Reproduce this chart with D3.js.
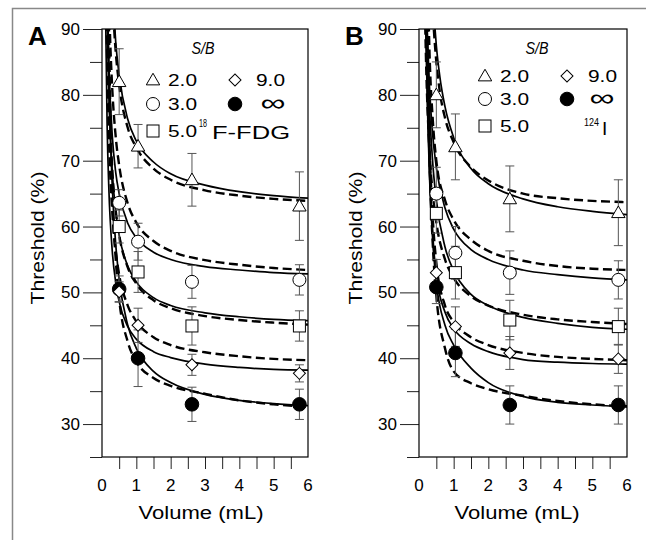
<!DOCTYPE html>
<html>
<head>
<meta charset="utf-8">
<title>Threshold vs volume</title>
<script src="https://cdnjs.cloudflare.com/ajax/libs/d3/7.8.5/d3.min.js"></script>
<style>
  body { margin: 0; background: #fff; }
  svg { display: block; font-family: "Liberation Sans", Arial, sans-serif; }
</style>
</head>
<body>
<svg id="chart" width="646" height="540"></svg>
<script>
// sphere volumes (mL) where the points sit
var volumes = [0.5, 1.05, 2.62, 5.75];
var yTicks = [30, 40, 50, 60, 70, 80, 90];
var yMinor = [25, 35, 45, 55, 65, 75, 85];
var xTicks = [0, 1, 2, 3, 4, 5, 6];
var xMinor = [0.5, 1, 1.5, 2, 2.5, 3, 3.5, 4, 4.5, 5, 5.5];

// panel A, 18F-FDG : measured thresholds (%) and error bars
var fdg2 = [82, 72.2, 67.1, 63.1],   fdg2Err = [5, 3.3, 4, 5.2];
var fdg3 = [63.6, 57.7, 51.6, 51.9], fdg3Err = [2, 2.8, 2.5, 2.3];
var fdg5 = [60, 53.1, 44.9, 44.9],   fdg5Err = [2.5, 3.1, 2.9, 2.3];
var fdg9 = [50.1, 45, 39, 37.7],     fdg9Err = [1.5, 2.6, 1.6, 1.3];
var fdgInf = [50.5, 40, 33, 33],     fdgInfErr = [2, 4.3, 2.6, 2.3];

// panel B, 124I
var iod2 = [80, 72.1, 64.2, 62.1],   iod2Err = [5, 5, 5, 5];
var iod3 = [65, 56, 53, 51.9],       iod3Err = [4, 4, 3.3, 2.9];
var iod5 = [62, 53, 45.8, 44.8],     iod5Err = [3, 4, 3, 2.8];
var iod9 = [53, 44.8, 40.8, 39.9],   iod9Err = [2, 3, 2.5, 2.2];
var iodInf = [50.8, 40.8, 32.9, 32.9], iodInfErr = [2.5, 3.6, 2.9, 2.9];

// fitted curves, [volume, threshold]
var fdgSolid2 = [[0.35,92],[0.4,88],[0.5,83],[0.75,76.3],[1,73],[1.5,69.8],[2,68],[3,66.3],[4,65.3],[5,64.7],[6,64.3]];
var fdgDash2  = [[0.33,92],[0.4,86.5],[0.5,81.5],[0.75,75],[1,72],[1.5,68.8],[2,67.1],[3,65.5],[4,64.7],[5,64.2],[6,63.9]];
var fdgSolid3 = [[0.16,92],[0.2,84.5],[0.3,73.7],[0.4,68.2],[0.5,65],[0.75,60.5],[1,58.3],[1.5,56.1],[2,55],[3,53.9],[4,53.4],[5,53],[6,52.8]];
var fdgDash3  = [[0.22,91.3],[0.25,86.6],[0.3,80.8],[0.4,73.6],[0.5,69.3],[0.75,63.5],[1,60.6],[1.5,57.8],[2,56.3],[3,54.9],[4,54.2],[5,53.7],[6,53.4]];
var fdgSolid5 = [[0.15,91.8],[0.2,80],[0.3,68.2],[0.4,62.3],[0.5,58.7],[0.75,54],[1,51.6],[1.5,49.2],[2,48],[3,46.9],[4,46.3],[5,45.9],[6,45.7]];
var fdgDash5  = [[0.15,93.2],[0.2,80.9],[0.3,68.6],[0.4,62.4],[0.5,58.7],[0.75,53.8],[1,51.3],[1.5,48.8],[2,47.6],[3,46.4],[4,45.8],[5,45.4],[6,45.1]];
var fdgSolid9 = [[0.1,94.2],[0.15,75.2],[0.2,65.7],[0.3,56.2],[0.4,51.5],[0.5,48.6],[0.75,44.8],[1,42.9],[1.5,41],[2,40.1],[3,39.1],[4,38.6],[5,38.3],[6,38.2]];
var fdgDash9  = [[0.13,93.1],[0.15,85.8],[0.2,74],[0.3,62.2],[0.4,56.3],[0.5,52.7],[0.75,48],[1,45.6],[1.5,43.2],[2,42],[3,40.9],[4,40.3],[5,39.9],[6,39.7]];
var fdgSolidInf = [[0.17,92.8],[0.2,83.5],[0.3,66],[0.4,57.3],[0.5,52],[0.75,45],[1,41.5],[1.5,38],[2,36.3],[3,34.5],[4,33.6],[5,33.1],[6,32.8]];
var fdgDashInf  = [[0.2,91],[0.25,75],[0.3,65],[0.4,55],[0.5,49],[0.75,42.5],[1,39.5],[1.5,37],[2,35.8],[3,34.6],[4,33.6],[5,33],[6,32.6]];

var iodSolid2 = [[0.44,91.5],[0.5,87.5],[0.6,82.8],[0.75,78.2],[1,73.5],[1.5,68.8],[2,66.5],[3,64.2],[4,63],[5,62.3],[6,61.8]];
var iodDash2  = [[0.4,92],[0.5,85],[0.6,80.5],[0.75,76.5],[1,72.8],[1.5,69],[2,67],[3,65],[4,64.3],[5,63.9],[6,63.7]];
var iodSolid3 = [[0.23,90.8],[0.3,81.4],[0.4,73.6],[0.5,69],[0.75,62.8],[1,59.6],[1.5,56.5],[2,55],[3,53.4],[4,52.7],[5,52.2],[6,51.9]];
var iodDash3  = [[0.28,91],[0.3,87],[0.4,76],[0.5,70],[0.75,64],[1,61],[1.5,58],[2,56.3],[3,54.8],[4,54],[5,53.6],[6,53.4]];
var iodSolid5 = [[0.2,96],[0.25,85.4],[0.3,78.3],[0.4,69.4],[0.5,64],[0.75,56.9],[1,53.3],[1.5,49.7],[2,48],[3,46.2],[4,45.3],[5,44.7],[6,44.4]];
var iodDash5  = [[0.18,90.5],[0.2,85.8],[0.3,71.8],[0.4,64.8],[0.5,60.6],[0.75,55],[1,52.2],[1.5,49.4],[2,48],[3,46.6],[4,45.9],[5,45.5],[6,45.2]];
var iodSolid9 = [[0.19,93],[0.25,78],[0.3,69],[0.4,58.5],[0.5,52.5],[0.75,47],[1,44.5],[1.5,42.2],[2,41],[3,39.8],[4,39.4],[5,39.2],[6,39.1]];
var iodDash9  = [[0.21,94],[0.25,83],[0.3,73],[0.4,61],[0.5,54.5],[0.75,48],[1,45.5],[1.5,43.2],[2,42],[3,40.8],[4,40.2],[5,39.9],[6,39.7]];
var iodSolidInf = [[0.19,91],[0.25,77],[0.3,68],[0.4,57.5],[0.5,51.5],[0.75,45],[1,42],[1.5,38.5],[2,36.3],[3,34.2],[4,33.3],[5,32.9],[6,32.6]];
var iodDashInf  = [[0.24,93],[0.3,72],[0.4,57],[0.5,49.5],[0.75,41.5],[1,38],[1.5,36.2],[2,35.3],[3,34.3],[4,33.5],[5,33],[6,32.7]];

var svg = d3.select("#chart");

// outer frame of the figure
svg.append("path").attr("d", "M12.5,540V8.5H646")
    .attr("fill", "none").attr("stroke", "#888").attr("stroke-width", 1.5);

function txt(g, x, y, s, size, opt) {
    opt = opt || {};
    var t = g.append("text").attr("x", x).attr("y", y)
        .attr("font-size", size).attr("fill", "#000").text(s);
    if (opt.anchor) t.attr("text-anchor", opt.anchor);
    if (opt.len) t.attr("textLength", opt.len).attr("lengthAdjust", "spacingAndGlyphs");
    if (opt.italic) t.attr("font-style", "italic");
    if (opt.bold) t.attr("font-weight", "bold");
    if (opt.transform) t.attr("transform", opt.transform);
    return t;
}

function marker(g, kind, cx, cy) {
    if (kind == "tri") {
        g.append("path").attr("d", d3.symbol(d3.symbolTriangle, 78)())
            .attr("transform", "translate(" + cx + "," + (cy + 1) + ")")
            .attr("fill", "#fff").attr("stroke", "#000").attr("stroke-width", 1);
    } else if (kind == "circ") {
        g.append("circle").attr("cx", cx).attr("cy", cy).attr("r", 6.5)
            .attr("fill", "#fff").attr("stroke", "#000").attr("stroke-width", 1);
    } else if (kind == "sq") {
        g.append("rect").attr("x", cx - 6).attr("y", cy - 6).attr("width", 12).attr("height", 12)
            .attr("fill", "#fff").attr("stroke", "#000").attr("stroke-width", 1);
    } else if (kind == "dia") {
        g.append("path").attr("d", d3.symbol(d3.symbolSquare, 72)())
            .attr("transform", "translate(" + cx + "," + cy + ") rotate(45)")
            .attr("fill", "#fff").attr("stroke", "#000").attr("stroke-width", 1);
    } else {
        g.append("circle").attr("cx", cx).attr("cy", cy).attr("r", 6.8)
            .attr("fill", "#000").attr("stroke", "#000");
    }
}

function drawPanel(p) {
    var x = d3.scaleLinear().domain([0, 6]).range([p.x0, p.x1]);
    var y = d3.scaleLinear().domain([25, 90]).range([457, 29]);
    var g = svg.append("g");

    var clipId = "clip" + p.letter;
    svg.append("clipPath").attr("id", clipId).append("rect")
        .attr("x", p.x0).attr("y", 29).attr("width", p.x1 - p.x0).attr("height", 428);

    // y axis, long major ticks + short minor ticks
    g.append("g").attr("transform", "translate(" + p.x0 + ",0)")
        .call(d3.axisLeft(y).tickValues(yTicks).tickSize(19).tickSizeOuter(0).tickFormat(""));
    g.append("g").attr("transform", "translate(" + p.x0 + ",0)")
        .call(d3.axisLeft(y).tickValues(yMinor).tickSize(12).tickSizeOuter(0).tickFormat(""));
    yTicks.forEach(function(v) {
        txt(g, p.x0 - 22, y(v) + 6, v, 17, {anchor: "end"});
    });

    g.append("g").attr("transform", "translate(0,457)")
        .call(d3.axisBottom(x).tickValues(xMinor).tickSize(12).tickSizeOuter(0).tickFormat(""));
    xTicks.forEach(function(v) {
        txt(g, x(v), 491, v, 17, {anchor: "middle"});
    });
    g.selectAll(".tick line").attr("stroke", "#222");
    g.selectAll(".domain").remove();

    g.append("rect").attr("x", p.x0).attr("y", 29).attr("width", p.x1 - p.x0).attr("height", 428)
        .attr("fill", "none").attr("stroke", "#000").attr("stroke-width", 1.2);

    // titles
    txt(g, p.letter == "A" ? 28 : 345, 45, p.letter, 26, {bold: true});
    txt(g, 0, 0, "Threshold (%)", 17.5, {anchor: "middle", len: 133,
        transform: "translate(" + p.ylab + ",238) rotate(-90)"});
    txt(g, p.xlab, 519, "Volume (mL)", 17.5, {anchor: "middle", len: 125});

    // curves
    var line = d3.line().x(function(d) { return x(d[0]); }).y(function(d) { return y(d[1]); })
        .curve(d3.curveMonotoneX);
    var cg = g.append("g").attr("clip-path", "url(#" + clipId + ")");
    p.series.forEach(function(s) {
        cg.append("path").attr("d", line(s.dash)).attr("fill", "none")
            .attr("stroke", "#000").attr("stroke-width", 2.4).attr("stroke-dasharray", "9,4.5");
        cg.append("path").attr("d", line(s.solid)).attr("fill", "none")
            .attr("stroke", "#000").attr("stroke-width", 1.7);
    });

    // error bars then markers
    p.series.forEach(function(s) {
        s.vals.forEach(function(v, i) {
            var cx = x(volumes[i]);
            var top = y(v + s.err[i]), bot = y(v - s.err[i]);
            g.append("line").attr("x1", cx).attr("x2", cx).attr("y1", top).attr("y2", bot)
                .attr("stroke", "#555").attr("stroke-width", 1);
            [top, bot].forEach(function(yy) {
                g.append("line").attr("x1", cx - 4.5).attr("x2", cx + 4.5).attr("y1", yy).attr("y2", yy)
                    .attr("stroke", "#555").attr("stroke-width", 1);
            });
        });
    });
    p.series.forEach(function(s) {
        s.vals.forEach(function(v, i) { marker(g, s.kind, x(volumes[i]), y(v)); });
    });

    // legend
    var L = p.legend;
    txt(g, L.sb, 54, "S/B", 16, {anchor: "middle", italic: true, len: 23});
    marker(g, "tri", L.m1, L.rows[0]);
    marker(g, "circ", L.m1, L.rows[1]);
    marker(g, "sq", L.m1, L.rows[2]);
    marker(g, "dia", L.m2, L.rows[0]);
    marker(g, "fill", L.m2, L.rows[1]);
    txt(g, L.m1 + 15, L.rows[0] + 6, "2.0", 17, {len: 29});
    txt(g, L.m1 + 15, L.rows[1] + 6, "3.0", 17, {len: 29});
    txt(g, L.m1 + 15, L.rows[2] + 6, "5.0", 17, {len: 29});
    txt(g, L.m2 + 21, L.rows[0] + 6, "9.0", 17, {len: 29});
    txt(g, L.inf, L.rows[1] + 7, "\u221e", 24, {anchor: "middle", len: 25});
    p.isotope(g, L);
}

drawPanel({
    letter: "A", x0: 102, x1: 308, ylab: 44, xlab: 201,
    legend: {sb: 203, m1: 153, m2: 235, inf: 273, rows: [80, 104, 131]},
    isotope: function(g, L) {
        txt(g, 199, 127, "18", 10, {len: 8});
        txt(g, 212, 139, "F-FDG", 19, {len: 78});
    },
    series: [
        {kind: "tri", vals: fdg2, err: fdg2Err, solid: fdgSolid2, dash: fdgDash2},
        {kind: "circ", vals: fdg3, err: fdg3Err, solid: fdgSolid3, dash: fdgDash3},
        {kind: "sq", vals: fdg5, err: fdg5Err, solid: fdgSolid5, dash: fdgDash5},
        {kind: "fill", vals: fdgInf, err: fdgInfErr, solid: fdgSolidInf, dash: fdgDashInf},
        {kind: "dia", vals: fdg9, err: fdg9Err, solid: fdgSolid9, dash: fdgDash9}
    ]
});

drawPanel({
    letter: "B", x0: 419, x1: 627, ylab: 362, xlab: 517,
    legend: {sb: 537, m1: 485, m2: 567, inf: 602, rows: [76, 99, 126]},
    isotope: function(g, L) {
        txt(g, 584, 126, "124", 11, {len: 15});
        txt(g, 602, 135, "I", 19);
    },
    series: [
        {kind: "tri", vals: iod2, err: iod2Err, solid: iodSolid2, dash: iodDash2},
        {kind: "circ", vals: iod3, err: iod3Err, solid: iodSolid3, dash: iodDash3},
        {kind: "sq", vals: iod5, err: iod5Err, solid: iodSolid5, dash: iodDash5},
        {kind: "fill", vals: iodInf, err: iodInfErr, solid: iodSolidInf, dash: iodDashInf},
        {kind: "dia", vals: iod9, err: iod9Err, solid: iodSolid9, dash: iodDash9}
    ]
});
</script>
</body>
</html>
